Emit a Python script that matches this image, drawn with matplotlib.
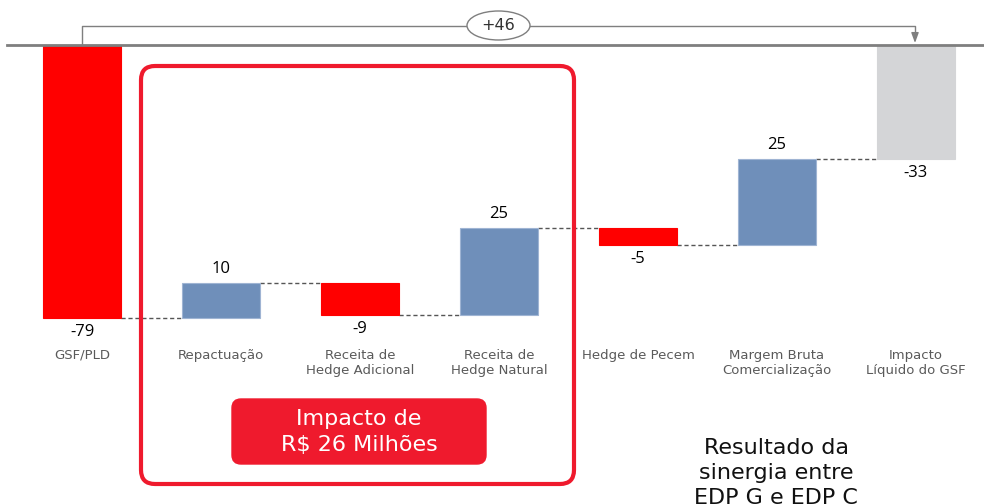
import matplotlib
matplotlib.use("Agg")
import matplotlib.pyplot as plt
from matplotlib.patches import FancyBboxPatch, Ellipse
import numpy as np

categories = ["GSF/PLD", "Repactuação", "Receita de\nHedge Adicional", "Receita de\nHedge Natural",
              "Hedge de Pecem", "Margem Bruta\nComercialização", "Impacto\nLíquido do GSF"]
values = [-79, 10, -9, 25, -5, 25, -33]
kinds = ["total", "delta", "delta", "delta", "delta", "delta", "total"]
value_labels = ["-79", "10", "-9", "25", "-5", "25", "-33"]
bracket_label = "+46"
box_text = "Impacto de\nR$ 26 Milhões"
side_text = "Resultado da\nsinergia entre\nEDP G e EDP C"

RED = "#FF0000"
BLUE = "#6F8FBA"
GRAY = "#D4D5D7"
BOXRED = "#EF1A2D"

W, H = 984, 504
fig = plt.figure(figsize=(W / 100, H / 100), dpi=100)
ax = fig.add_axes([0, 0, 1, 1])
ax.set_axis_off()

step = 139.0
x0 = 82.0
pxu = 273.0 / 79.0
y0px = 45.0
ax.set_xlim(-x0 / step, (W - x0) / step)
ax.set_ylim(-(H - y0px) / pxu, y0px / pxu)

def fx(px):
    return px / W

def fy(py):
    return 1 - py / H

bw = 78 / step
bottoms, tops, levels = [], [], []
running = 0.0
for v, k in zip(values, kinds):
    if k == "total":
        lo, hi = min(0, v), max(0, v)
        running = v
    else:
        start = running
        running = start + v
        lo, hi = min(start, running), max(start, running)
    bottoms.append(lo)
    tops.append(hi)
    levels.append(running)

xs = np.arange(len(values))
for i, (v, k) in enumerate(zip(values, kinds)):
    if k == "total":
        c = RED if i == 0 else GRAY
        ec = c
    else:
        c = BLUE if v > 0 else RED
        ec = "#9FB4D3" if v > 0 else RED
    ax.bar(xs[i], tops[i] - bottoms[i], bottom=bottoms[i], width=bw, color=c,
           edgecolor=ec, linewidth=0.8, zorder=3)

for i in range(len(values) - 1):
    ax.plot([xs[i] + bw / 2, xs[i + 1] - bw / 2], [levels[i], levels[i]],
            color="#555555", lw=1.0, ls=(0, (3, 2)), zorder=2)

off = 14 / pxu
for i, v in enumerate(values):
    y = tops[i] + off if v > 0 else bottoms[i] - off
    ax.text(xs[i], y, value_labels[i], ha="center", va="center", fontsize=12,
            color="#000000", family="Open Sans", zorder=5)

for i, c in enumerate(categories):
    ax.text(xs[i], -(349 - y0px) / pxu, c, ha="center", va="top", fontsize=9.5,
            color="#5a5a5a", family="DejaVu Sans", linespacing=1.25, zorder=5)

# baseline
ax.plot([7 / W, 1], [fy(45), fy(45)], transform=fig.transFigure, color="#7f7f7f", lw=2, zorder=4)

# bracket
bx1, bx2, by = 82, 915, 26
ax.plot([fx(bx1), fx(bx1), fx(bx2), fx(bx2)], [fy(45), fy(by), fy(by), fy(36)],
        transform=fig.transFigure, color="#7f7f7f", lw=1.0, zorder=4)
ax.annotate("", xy=(fx(bx2), fy(43)), xytext=(fx(bx2), fy(33)),
            xycoords=fig.transFigure, textcoords=fig.transFigure,
            arrowprops=dict(arrowstyle="-|>,head_width=0.22,head_length=0.6",
                            color="#7f7f7f", lw=1.0, shrinkA=0, shrinkB=0))
ell = Ellipse((fx(498.5), fy(25.5)), width=63 / W, height=29 / H, transform=fig.transFigure,
              facecolor="white", edgecolor="#7f7f7f", lw=1.0, zorder=5)
fig.add_artist(ell)
fig.text(fx(498.5), fy(25.5), bracket_label, ha="center", va="center", fontsize=11.5,
         color="#333333", family="DejaVu Sans Condensed", zorder=6)

# big rounded box (pixel coords)
r = 14
box = FancyBboxPatch((141 + r, H - 484 + r), 574 - 141 - 2 * r, 484 - 66 - 2 * r,
                     boxstyle=f"round,pad={r}", transform=None,
                     facecolor="none", edgecolor=BOXRED, lw=3, zorder=6)
fig.add_artist(box)

r2 = 9
box2 = FancyBboxPatch((232 + r2, H - 464 + r2), 486 - 232 - 2 * r2, 464 - 399 - 2 * r2,
                      boxstyle=f"round,pad={r2}", transform=None,
                      facecolor=BOXRED, edgecolor=BOXRED, lw=1, zorder=6)
fig.add_artist(box2)
fig.text(fx(359), fy(432), box_text, ha="center", va="center", fontsize=16,
         color="white", family="DejaVu Sans", linespacing=1.35, zorder=7)

fig.text(fx(776), fy(438), side_text, ha="center", va="top", fontsize=16,
         color="#111111", family="DejaVu Sans", linespacing=1.32, zorder=7)

fig.savefig("out.png", dpi=100)
